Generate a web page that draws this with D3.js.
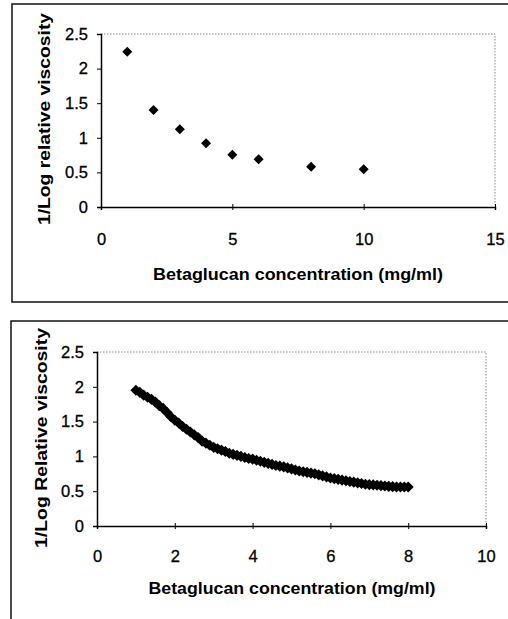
<!DOCTYPE html>
<html><head><meta charset="utf-8">
<script src="https://cdn.jsdelivr.net/npm/d3@7"></script>
<style>
body{margin:0;background:#fff;}
svg{display:block;}
text{font-family:Arial,"Liberation Sans",sans-serif;fill:#000;}
</style></head>
<body>
<svg id="c" width="508" height="619"></svg>
<script>
// Top chart data
const topX = [1, 2, 3, 4, 5, 6, 8, 10];
const topY = [2.245, 1.40, 1.125, 0.92, 0.755, 0.69, 0.58, 0.545];
const topXTicks = [0, 5, 10, 15];
const topYTicks = [0, 0.5, 1, 1.5, 2, 2.5];
const topXTitle = "Betaglucan concentration (mg/ml)";
const topYTitle = "1/Log relative viscosity";

// Bottom chart data
const botX = [1.0,1.1,1.2,1.3,1.4,1.5,1.6,1.7,1.8,1.9,2.0,2.1,2.2,2.3,2.4,2.5,2.6,2.7,2.8,2.9,
  3.0,3.1,3.2,3.3,3.4,3.5,3.6,3.7,3.8,3.9,4.0,4.1,4.2,4.3,4.4,4.5,4.6,4.7,4.8,4.9,
  5.0,5.1,5.2,5.3,5.4,5.5,5.6,5.7,5.8,5.9,6.0,6.1,6.2,6.3,6.4,6.5,6.6,6.7,6.8,6.9,
  7.0,7.1,7.2,7.3,7.4,7.5,7.6,7.7,7.8,7.9,8.0];
const botY = [1.95,1.92,1.88,1.85,1.82,1.78,1.73,1.69,1.63,1.57,1.52,1.48,1.43,1.39,1.35,1.31,1.27,1.22,1.19,1.16,
  1.13,1.11,1.09,1.07,1.045,1.03,1.015,1.00,0.985,0.97,0.96,0.945,0.93,0.915,0.90,0.885,0.87,0.86,0.85,0.835,
  0.82,0.805,0.79,0.78,0.77,0.76,0.75,0.735,0.72,0.705,0.69,0.68,0.67,0.66,0.65,0.64,0.63,0.62,0.61,0.60,
  0.595,0.59,0.585,0.58,0.575,0.57,0.565,0.56,0.56,0.56,0.56];
const botXTicks = [0, 2, 4, 6, 8, 10];
const botYTicks = [0, 0.5, 1, 1.5, 2, 2.5];
const botXTitle = "Betaglucan concentration (mg/ml)";
const botYTitle = "1/Log Relative viscosity";

const svg = d3.select("#c");
const FONT = "Arial, 'Liberation Sans', sans-serif";

function chart(cfg){
  const g = svg.append("g");
  g.append("path")
    .attr("d", `M${cfg.frame.x1},${cfg.frame.y0}H${cfg.frame.x0}V${cfg.frame.y1}` + (cfg.frame.bottom ? `H${cfg.frame.x1}` : ""))
    .attr("fill","none").attr("stroke","#111").attr("stroke-width",1.5);

  const x = d3.scaleLinear().domain(cfg.xDomain).range([cfg.left, cfg.right]);
  const y = d3.scaleLinear().domain([0, 2.5]).range([cfg.bottom, cfg.top]);

  g.append("path")
    .attr("d", `M${cfg.left},${cfg.top}H${cfg.right}V${cfg.bottom}`)
    .attr("fill","none").attr("stroke","#888").attr("stroke-width",1)
    .attr("stroke-dasharray","1.5,1.5");

  const xa = g.append("g").attr("transform",`translate(0,${cfg.bottom})`)
    .call(d3.axisBottom(x).tickValues(cfg.xTicks).tickSize(3).tickPadding(cfg.xPad).tickFormat(d3.format("~g")));
  xa.select(".domain").attr("stroke","#000").attr("stroke-width",1.5);
  xa.selectAll(".tick line").attr("y1",-3).attr("y2",3).attr("stroke","#000");
  xa.selectAll(".tick text").attr("font-size",16.5).style("font-family",FONT)
    .attr("stroke","#000").attr("stroke-width",0.3);

  const ya = g.append("g").attr("transform",`translate(${cfg.left},0)`)
    .call(d3.axisLeft(y).tickValues(cfg.yTicks).tickSize(4).tickPadding(9).tickFormat(d3.format("~g")));
  ya.select(".domain").attr("stroke","#000").attr("stroke-width",1.5);
  ya.selectAll(".tick line").attr("stroke","#000");
  ya.selectAll(".tick text").attr("font-size",16.5).style("font-family",FONT)
    .attr("stroke","#000").attr("stroke-width",0.3);

  const sym = d3.symbol(d3.symbolSquare, cfg.markerSize);
  g.append("g").selectAll("path").data(cfg.xs.map((v,i)=>[v,cfg.ys[i]])).join("path")
    .attr("d", sym)
    .attr("transform", d=>`translate(${x(d[0])},${y(d[1])}) rotate(45)`)
    .attr("fill","#000");

  g.append("text").attr("x", cfg.xTitlePos[0]).attr("y", cfg.xTitlePos[1])
    .attr("text-anchor","middle").attr("font-size",16.5).attr("font-weight","bold")
    .attr("textLength", cfg.xTitleLen).attr("lengthAdjust","spacingAndGlyphs")
    .text(cfg.xTitle);
  g.append("text").attr("transform",`translate(${cfg.yTitlePos[0]},${cfg.yTitlePos[1]}) rotate(-90)`)
    .attr("text-anchor","middle").attr("font-size",16.5).attr("font-weight","bold")
    .attr("textLength", cfg.yTitleLen).attr("lengthAdjust","spacingAndGlyphs")
    .text(cfg.yTitle);
}

chart({
  frame:{x0:12, x1:508, y0:4, y1:302, bottom:true},
  left:101, right:495, top:34, bottom:207, xPad:23,
  xDomain:[0,15], xTicks:topXTicks, yTicks:topYTicks,
  xs:topX, ys:topY, markerSize:50,
  xTitle:topXTitle, yTitle:topYTitle, xTitleLen:290, yTitleLen:212,
  xTitlePos:[298, 280], yTitlePos:[50, 119]
});

chart({
  frame:{x0:11, x1:508, y0:321, y1:619, bottom:false},
  left:97, right:486, top:352, bottom:526, xPad:21,
  xDomain:[0,10], xTicks:botXTicks, yTicks:botYTicks,
  xs:botX, ys:botY, markerSize:62,
  xTitle:botXTitle, yTitle:botYTitle, xTitleLen:287, yTitleLen:220,
  xTitlePos:[292, 594], yTitlePos:[47, 438]
});
</script>
</body></html>
